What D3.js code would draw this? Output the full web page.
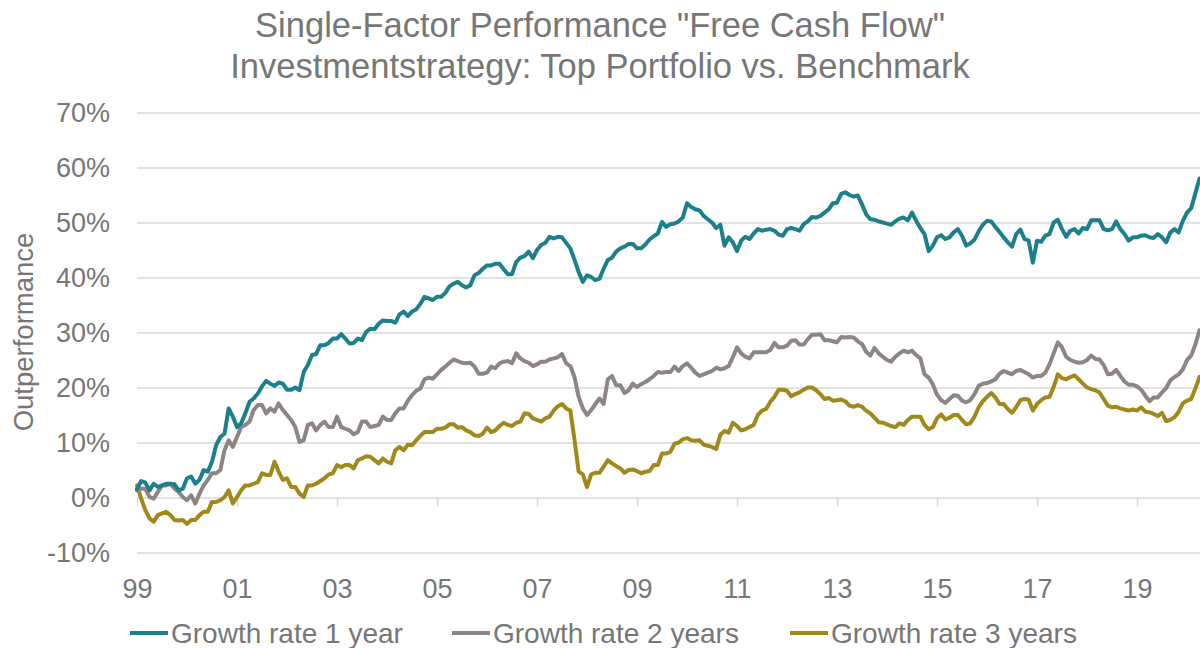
<!DOCTYPE html>
<html>
<head>
<meta charset="utf-8">
<script src="https://cdn.jsdelivr.net/npm/d3@7"></script>
<style>
  body { margin: 0; background: #fff; }
  svg { display: block; font-family: "Liberation Sans", Arial, sans-serif; }
</style>
</head>
<body>
<svg id="chart" width="1200" height="648"></svg>
<script>
// monthly values, Jan 1999 .. Apr 2020 (outperformance in %)
var growth1y = [
  1.5, 3.0, 2.7, 1.3, 2.5, 1.9, 2.2, 2.5, 2.5, 2.4, 1.3, 1.6,
  3.5, 3.8, 2.5, 3.2, 5.0, 4.7, 6.5, 9.5, 11.0, 11.6, 16.2, 14.7,
  12.8, 13.5, 15.3, 17.4, 18.0, 18.9, 20.2, 21.2, 20.7, 20.3, 20.9, 20.7,
  19.6, 19.6, 20.0, 19.5, 22.8, 24.1, 25.9, 26.1, 27.7, 27.7, 28.1, 28.9,
  28.9, 29.7, 28.9, 28.0, 28.1, 28.9, 28.6, 30.1, 30.7, 30.6, 31.6, 32.2,
  32.1, 32.1, 31.8, 33.3, 33.8, 33.0, 33.8, 34.2, 35.2, 36.5, 36.2, 35.9,
  36.5, 36.5, 37.2, 38.4, 38.9, 39.2, 38.6, 38.2, 38.6, 40.4, 40.8, 41.6,
  42.2, 42.2, 42.5, 42.5, 41.5, 40.6, 40.6, 42.8, 43.6, 43.9, 44.7, 43.5,
  45.0, 45.9, 46.3, 47.4, 47.1, 47.4, 47.3, 46.3, 45.3, 43.2, 41.0, 39.2,
  40.4, 40.1, 39.5, 39.8, 41.6, 43.2, 43.6, 44.7, 45.3, 45.6, 46.1, 46.1,
  45.3, 45.3, 46.0, 46.9, 47.5, 48.0, 50.1, 49.2, 49.7, 49.8, 50.2, 50.9,
  53.5, 52.8, 52.4, 52.2, 51.2, 50.6, 50.0, 49.0, 49.6, 45.8, 47.3, 46.4,
  44.8, 46.7, 47.4, 47.0, 48.0, 48.8, 48.5, 48.7, 48.8, 48.5, 47.8, 47.6,
  48.8, 49.0, 48.8, 48.5, 49.7, 50.2, 51.0, 50.9, 51.2, 51.8, 52.4, 53.5,
  53.6, 55.2, 55.5, 55.0, 54.7, 54.9, 53.3, 51.5, 50.6, 50.5, 50.2, 50.0,
  49.8, 49.6, 50.2, 50.7, 50.9, 50.4, 51.8, 50.3, 49.0, 47.9, 44.8, 45.8,
  47.3, 47.7, 47.0, 47.3, 48.2, 48.8, 47.6, 45.8, 46.2, 46.9, 48.4, 49.6,
  50.3, 50.2, 49.2, 48.3, 47.3, 46.4, 45.6, 47.9, 48.7, 47.0, 46.7, 42.7,
  46.7, 46.5, 47.6, 47.9, 50.0, 50.5, 48.8, 47.4, 48.5, 48.8, 48.0, 49.0,
  48.8, 50.4, 50.4, 50.4, 48.8, 48.6, 48.8, 50.2, 48.8, 47.9, 46.7, 47.3,
  47.3, 47.6, 47.7, 47.3, 47.2, 47.9, 47.3, 46.4, 48.2, 48.8, 48.2, 50.3,
  51.8, 52.6, 55.3, 58.0
];
var growth2y = [
  1.3, 1.6, 1.6, 0.1, -0.2, 1.0, 2.2, 2.2, 2.5, 1.6, 1.0, 0.1,
  -0.5, 0.4, -1.1, 0.7, 2.2, 3.2, 4.4, 4.4, 5.0, 8.6, 10.4, 9.2,
  11.0, 12.8, 13.2, 13.8, 15.9, 16.8, 16.8, 15.3, 16.2, 15.6, 17.1, 15.9,
  15.0, 14.1, 12.8, 10.1, 10.4, 13.2, 13.5, 12.2, 13.2, 13.8, 12.8, 12.8,
  14.7, 12.8, 12.5, 12.2, 11.5, 11.9, 13.8, 13.8, 12.8, 13.0, 13.2, 14.7,
  14.1, 14.1, 15.3, 16.2, 16.2, 17.6, 18.6, 19.4, 19.8, 21.5, 21.8, 21.6,
  22.4, 23.2, 23.8, 24.5, 25.1, 24.8, 24.5, 24.4, 24.5, 23.8, 22.5, 22.5,
  22.7, 23.8, 23.5, 24.4, 24.7, 24.8, 24.4, 26.2, 25.3, 24.8, 24.5, 23.9,
  24.2, 24.7, 24.7, 25.1, 25.3, 25.5, 26.1, 24.4, 23.9, 21.9, 18.3, 16.2,
  15.0, 15.9, 17.0, 18.0, 17.0, 21.5, 22.1, 20.4, 20.4, 19.0, 19.5, 20.7,
  20.1, 20.6, 21.0, 21.5, 22.1, 22.8, 22.7, 22.8, 22.8, 23.8, 23.0, 23.9,
  24.4, 23.6, 22.7, 22.1, 22.4, 22.7, 23.0, 23.6, 23.3, 23.5, 23.9, 25.5,
  27.3, 26.2, 25.6, 25.3, 26.4, 26.4, 26.4, 26.4, 26.8, 28.1, 27.3, 27.3,
  27.6, 28.5, 28.6, 27.8, 27.8, 28.8, 29.6, 29.6, 29.7, 28.6, 28.6, 28.4,
  28.2, 29.2, 29.1, 29.2, 29.1, 28.4, 27.9, 26.5, 25.8, 27.2, 26.2, 25.6,
  25.0, 24.7, 25.6, 26.2, 26.7, 26.4, 26.7, 25.9, 25.3, 22.4, 21.8, 20.6,
  18.7, 17.7, 17.2, 17.9, 18.6, 18.5, 17.6, 17.3, 17.7, 18.8, 20.3, 20.7,
  20.8, 21.1, 21.5, 22.5, 23.0, 22.7, 22.4, 23.0, 23.2, 22.8, 22.4, 21.8,
  22.1, 22.1, 22.7, 24.2, 26.2, 28.2, 27.3, 25.6, 25.0, 24.7, 24.5, 24.6,
  25.0, 25.8, 25.2, 25.1, 24.1, 22.4, 22.5, 23.2, 22.1, 21.1, 20.5, 20.5,
  20.2, 19.6, 18.5, 17.5, 18.2, 18.2, 19.1, 19.9, 21.3, 21.9, 22.4, 23.3,
  25.0, 25.8, 27.8, 30.4
];
var growth3y = [
  2.2, -0.2, -2.3, -3.8, -4.4, -3.2, -2.9, -2.6, -3.2, -4.1, -4.2, -4.1,
  -4.8, -4.1, -4.1, -3.2, -2.6, -2.6, -0.8, -0.8, -0.5, 0.1, 1.3, -1.1,
  0.1, 1.3, 2.2, 2.2, 2.5, 2.8, 4.4, 4.1, 4.1, 6.5, 4.7, 3.2,
  3.5, 1.9, 1.9, 0.7, 0.1, 2.2, 2.2, 2.5, 3.0, 3.5, 4.2, 4.4,
  5.9, 5.5, 5.9, 5.9, 5.3, 6.8, 7.1, 7.5, 7.4, 6.8, 6.2, 7.1,
  6.5, 6.2, 8.6, 9.2, 8.6, 9.6, 9.5, 10.4, 11.2, 11.9, 11.9, 11.9,
  12.5, 12.5, 12.7, 13.3, 13.3, 12.7, 12.8, 12.2, 11.9, 11.3, 11.2, 11.6,
  12.7, 11.9, 12.2, 13.0, 13.6, 13.2, 13.0, 13.6, 13.8, 15.3, 15.2, 14.4,
  14.1, 13.8, 14.4, 14.7, 15.8, 16.6, 17.0, 16.2, 15.8, 10.5, 4.7, 4.2,
  1.9, 4.2, 4.5, 4.5, 5.6, 6.8, 6.2, 5.7, 5.3, 4.5, 5.0, 5.1,
  4.8, 4.4, 4.7, 4.8, 5.9, 5.9, 8.0, 8.0, 8.3, 9.8, 10.0, 10.6,
  10.8, 10.4, 10.3, 10.4, 9.6, 9.4, 9.2, 8.8, 11.4, 12.1, 11.8, 13.6,
  13.0, 12.2, 12.4, 12.8, 13.2, 15.0, 15.8, 16.1, 17.4, 18.3, 19.6, 19.6,
  19.4, 18.4, 18.8, 19.1, 19.6, 20.0, 20.0, 19.5, 18.8, 17.9, 18.1, 17.6,
  17.7, 17.8, 17.5, 16.7, 16.5, 16.8, 16.5, 15.8, 15.3, 14.5, 13.7, 13.6,
  13.3, 13.0, 12.8, 13.5, 13.2, 14.1, 14.7, 14.7, 14.7, 13.2, 12.4, 12.8,
  14.4, 15.1, 14.2, 14.5, 15.0, 15.0, 14.1, 13.3, 13.5, 14.7, 16.4, 17.5,
  18.3, 19.0, 18.2, 17.0, 17.0, 16.1, 15.4, 16.4, 17.7, 17.9, 17.8, 15.8,
  17.0, 17.7, 18.2, 18.3, 20.1, 22.4, 21.7, 21.5, 21.9, 22.2, 21.5, 20.7,
  20.0, 19.7, 19.5, 19.1, 17.9, 16.7, 16.4, 16.5, 16.2, 16.0, 15.8, 16.0,
  15.8, 16.4, 15.6, 15.5, 15.2, 14.8, 15.4, 13.9, 14.1, 14.6, 15.6, 17.1,
  17.6, 17.9, 19.8, 21.9
];

var yearTicks = [0, 24, 48, 72, 96, 120, 144, 168, 192, 216, 240];
var yearLabels = ["99", "01", "03", "05", "07", "09", "11", "13", "15", "17", "19"];
var yTicks = [-10, 0, 10, 20, 30, 40, 50, 60, 70];

var seriesNames = ["Growth rate 1 year", "Growth rate 2 years", "Growth rate 3 years"];
var seriesColors = ["#1c7f8c", "#8c8584", "#a0881a"];
var titleLines = ['Single-Factor Performance "Free Cash Flow"', "Investmentstrategy: Top Portfolio vs. Benchmark"];

var textColor = "#767676";
var gridColor = "#d9d9d9";

var svg = d3.select("#chart");
var plotLeft = 137, plotRight = 1200, plotTop = 112.5, plotBottom = 552.5;

var x = d3.scaleLinear().domain([0, growth1y.length - 1]).range([plotLeft, 1199.5]);
var y = d3.scaleLinear().domain([-10, 70]).range([plotBottom, plotTop]);

// title
svg.append("g").selectAll("text").data(titleLines).enter().append("text")
  .attr("x", 600)
  .attr("y", function(d, i) { return 37 + i * 41; })
  .attr("text-anchor", "middle")
  .attr("font-size", "34.5px")
  .attr("fill", textColor)
  .text(function(d) { return d; });

// y axis + gridlines
var yAxis = svg.append("g")
  .attr("transform", "translate(" + plotLeft + ",0)")
  .call(d3.axisLeft(y).tickValues(yTicks).tickSize(-(plotRight - plotLeft)).tickPadding(27)
    .tickFormat(function(d) { return d + "%"; }));
yAxis.select(".domain").remove();
yAxis.selectAll(".tick line").attr("stroke", gridColor).attr("stroke-width", 1.5);
yAxis.selectAll(".tick text")
  .attr("fill", textColor)
  .attr("font-size", "27px")
  .attr("font-family", "Liberation Sans, Arial, sans-serif");

// x axis on the 0% line
var xAxis = svg.append("g")
  .attr("transform", "translate(0," + y(0) + ")")
  .call(d3.axisBottom(x).tickValues(yearTicks).tickSize(9).tickPadding(72)
    .tickFormat(function(d, i) { return yearLabels[i]; }));
xAxis.select(".domain").remove();
xAxis.selectAll(".tick line").attr("stroke", gridColor).attr("stroke-width", 1.5);
xAxis.selectAll(".tick text")
  .attr("fill", textColor)
  .attr("font-size", "27px")
  .attr("font-family", "Liberation Sans, Arial, sans-serif");

// y axis title
svg.append("text")
  .attr("transform", "translate(33,332) rotate(-90)")
  .attr("text-anchor", "middle")
  .attr("font-size", "27.5px")
  .attr("fill", textColor)
  .text("Outperformance");

// lines
var line = d3.line()
  .x(function(d, i) { return x(i); })
  .y(function(d) { return y(d); });

svg.append("g").selectAll("path").data([growth3y, growth2y, growth1y]).enter().append("path")
  .attr("d", line)
  .attr("fill", "none")
  .attr("stroke", function(d, i) { return seriesColors[2 - i]; })
  .attr("stroke-width", 4)
  .attr("stroke-linejoin", "round")
  .attr("stroke-linecap", "round");

// legend
var legendX = [130, 452, 790];
var legend = svg.append("g").selectAll("g").data(seriesNames).enter().append("g")
  .attr("transform", function(d, i) { return "translate(" + legendX[i] + ",633)"; });
legend.append("line")
  .attr("x1", 0).attr("x2", 38).attr("y1", 0).attr("y2", 0)
  .attr("stroke", function(d, i) { return seriesColors[i]; })
  .attr("stroke-width", 4);
legend.append("text")
  .attr("x", 41)
  .attr("y", 10)
  .attr("font-size", "28px")
  .attr("fill", textColor)
  .text(function(d) { return d; });
</script>
</body>
</html>
